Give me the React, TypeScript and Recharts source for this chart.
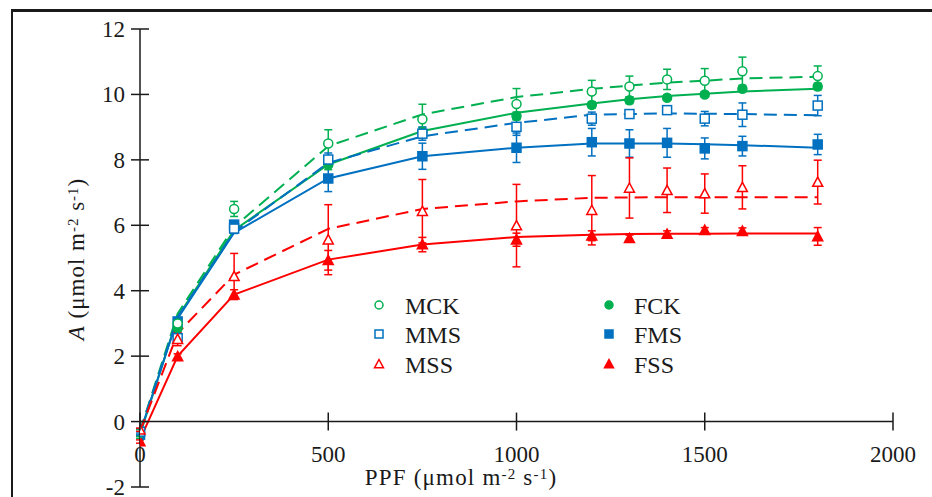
import React from "react";
import { ComposedChart, ErrorBar, Line, ReferenceLine, Scatter, XAxis, YAxis } from "recharts";

// PPF levels (µmol m-2 s-1)
const PPF = [0, 100, 250, 500, 750, 1000, 1200, 1300, 1400, 1500, 1600, 1800];

// measured net photosynthesis A, with error bars
const MCK = [-0.35, 3.0, 6.5, 8.5, 9.24, 9.71, 10.09, 10.24, 10.46, 10.42, 10.71, 10.56];
const MCK_ERR = [0.1, 0.15, 0.23, 0.42, 0.46, 0.47, 0.34, 0.32, 0.31, 0.37, 0.43, 0.31];
const FCK = [-0.46, 2.86, 5.95, 7.85, 8.85, 9.34, 9.68, 9.82, 9.9, 10.0, 10.17, 10.24];
const FCK_ERR = [0.05, 0.1, 0.1, 0.15, 0.15, 0.12, 0.1, 0.1, 0.08, 0.08, 0.08, 0.1];
const MMS = [-0.31, 2.55, 5.9, 8.01, 8.8, 9.01, 9.26, 9.4, 9.52, 9.26, 9.38, 9.66];
const MMS_ERR = [0.1, 0.15, 0.15, 0.2, 0.2, 0.26, 0.2, 0.1, 0.12, 0.22, 0.36, 0.31];
const FMS = [-0.4, 3.06, 6.02, 7.43, 8.11, 8.37, 8.54, 8.5, 8.52, 8.35, 8.42, 8.47];
const FMS_ERR = [0.05, 0.1, 0.12, 0.4, 0.4, 0.45, 0.42, 0.42, 0.44, 0.32, 0.3, 0.31];
const MSS = [-0.25, 2.52, 4.44, 5.56, 6.43, 5.99, 6.46, 7.14, 7.07, 6.97, 7.16, 7.32];
const MSS_ERR = [0.05, 0.2, 0.7, 1.07, 0.97, 1.26, 1.06, 0.92, 0.68, 0.6, 0.66, 0.67];
const FSS = [-0.61, 1.99, 3.88, 4.93, 5.41, 5.56, 5.68, 5.6, 5.73, 5.85, 5.82, 5.66];
const FSS_ERR = [0.05, 0.08, 0.15, 0.3, 0.22, 0.2, 0.15, 0.1, 0.1, 0.08, 0.1, 0.27];

// fitted light-response curves
const MCK_FIT = [-0.3, 3.3, 5.95, 8.42, 9.39, 9.92, 10.17, 10.27, 10.36, 10.42, 10.49, 10.54];
const FCK_FIT = [-0.4, 3.2, 5.85, 7.86, 8.88, 9.44, 9.72, 9.85, 9.95, 10.02, 10.09, 10.17];
const MMS_FIT = [-0.3, 3.2, 5.8, 7.91, 8.72, 9.13, 9.38, 9.4, 9.42, 9.41, 9.4, 9.36];
const FMS_FIT = [-0.35, 3.15, 5.77, 7.43, 8.11, 8.37, 8.5, 8.5, 8.5, 8.48, 8.45, 8.37];
const MSS_FIT = [-0.3, 2.7, 4.49, 5.89, 6.5, 6.73, 6.84, 6.85, 6.86, 6.86, 6.86, 6.86];
const FSS_FIT = [-0.55, 2.0, 3.88, 4.95, 5.41, 5.64, 5.71, 5.73, 5.74, 5.74, 5.75, 5.75];

const X_TICKS = [0, 500, 1000, 1500, 2000];
const Y_TICKS = [-2, 0, 2, 4, 6, 8, 10, 12];

const W = 932;
const H = 497;
const MARGIN = { top: 29, right: 39, bottom: 0, left: 0 };
const Y_AXIS_W = 140;
const X_AXIS_H = 10;
const PLOT_H = H - MARGIN.top - MARGIN.bottom - X_AXIS_H;
const ZERO_Y = MARGIN.top + (PLOT_H * 12) / 14;

const FONT = "'Liberation Serif', 'Times New Roman', serif";
const INK = "#1a1a1a";
const GREEN = "#00b050";
const BLUE = "#0070c0";
const RED = "#ff0000";

type ShapeKind = "circle" | "square" | "triangle";

// legend order: left column M*, right column F*
const SERIES = [
  { name: "MCK", vals: MCK, errs: MCK_ERR, fit: MCK_FIT, color: GREEN, shape: "circle", filled: false },
  { name: "MMS", vals: MMS, errs: MMS_ERR, fit: MMS_FIT, color: BLUE, shape: "square", filled: false },
  { name: "MSS", vals: MSS, errs: MSS_ERR, fit: MSS_FIT, color: RED, shape: "triangle", filled: false },
  { name: "FCK", vals: FCK, errs: FCK_ERR, fit: FCK_FIT, color: GREEN, shape: "circle", filled: true },
  { name: "FMS", vals: FMS, errs: FMS_ERR, fit: FMS_FIT, color: BLUE, shape: "square", filled: true },
  { name: "FSS", vals: FSS, errs: FSS_ERR, fit: FSS_FIT, color: RED, shape: "triangle", filled: true },
] as { name: string; vals: number[]; errs: number[]; fit: number[]; color: string; shape: ShapeKind; filled: boolean }[];

// filled series are drawn first so the open markers sit on top
const DRAW_ORDER = [...SERIES.slice(3), ...SERIES.slice(0, 3)];

function Marker({ cx, cy, shape, color, filled, r = 4.5 }: any) {
  const fill = filled ? color : "#fff";
  if (shape === "circle") {
    return <circle cx={cx} cy={cy} r={r} fill={fill} stroke={color} strokeWidth={1.5} />;
  }
  if (shape === "square") {
    return <rect x={cx - r} y={cy - r} width={2 * r} height={2 * r} fill={fill} stroke={color} strokeWidth={1.5} />;
  }
  const s = r + 0.5;
  return (
    <polygon
      points={`${cx},${cy - s} ${cx + s},${cy + s * 0.85} ${cx - s},${cy + s * 0.85}`}
      fill={fill}
      stroke={color}
      strokeWidth={1.5}
    />
  );
}

function XTick({ x, payload }: any) {
  return (
    <g>
      <line x1={x} x2={x} y1={ZERO_Y - 9} y2={ZERO_Y + 9} stroke={INK} strokeWidth={1.5} />
      <text x={x} y={ZERO_Y + 40} textAnchor="middle" fontFamily={FONT} fontSize={23} fill={INK}>
        {payload.value}
      </text>
    </g>
  );
}

function YTick({ y, payload }: any) {
  return (
    <g>
      <line x1={Y_AXIS_W - 9} x2={Y_AXIS_W + 9} y1={y} y2={y} stroke={INK} strokeWidth={1.5} />
      <text x={Y_AXIS_W - 15} y={y + 8} textAnchor="end" fontFamily={FONT} fontSize={23} fill={INK}>
        {payload.value}
      </text>
    </g>
  );
}

function Titles() {
  return (
    <g fontFamily={FONT} fill={INK}>
      <text x={461} y={485} textAnchor="middle" fontSize={23} letterSpacing={1.2}>
        PPF (μmol m<tspan baselineShift="38%" fontSize={15}>-2</tspan> s
        <tspan baselineShift="38%" fontSize={15}>-1</tspan>)
      </text>
      <text transform="translate(84,259) rotate(-90)" textAnchor="middle" fontSize={23} letterSpacing={1}>
        <tspan fontStyle="italic">A</tspan> (μmol m<tspan baselineShift="38%" fontSize={15}>-2</tspan> s
        <tspan baselineShift="38%" fontSize={15}>-1</tspan>)
      </text>
    </g>
  );
}

function LegendBlock() {
  const cols = [
    { mx: 379, tx: 405 },
    { mx: 609, tx: 634 },
  ];
  const rows = [305, 334, 364];
  return (
    <g>
      {SERIES.map((s, i) => {
        const c = cols[Math.floor(i / 3)];
        const y = rows[i % 3];
        return (
          <g key={s.name}>
            <Marker cx={c.mx} cy={y} shape={s.shape} color={s.color} filled={s.filled} r={4} />
            <text x={c.tx} y={y + 8.5} fontFamily={FONT} fontSize={24} fill={INK}>
              {s.name}
            </text>
          </g>
        );
      })}
    </g>
  );
}

export default function App() {
  return (
    <div style={{ position: "absolute", left: 0, top: 0, width: W, height: H, background: "#fff" }}>
      <div
        style={{
          position: "absolute",
          left: 11,
          top: 9,
          width: W,
          height: H,
          borderTop: `3px solid ${INK}`,
          borderLeft: `2px solid ${INK}`,
          pointerEvents: "none",
        }}
      />
      <ComposedChart width={W} height={H} margin={MARGIN} style={{ position: "absolute", left: 0, top: 0 }}>
        <XAxis
          dataKey="x"
          type="number"
          domain={[0, 2000]}
          ticks={X_TICKS}
          interval={0}
          height={X_AXIS_H}
          axisLine={false}
          tickLine={false}
          tick={<XTick />}
          allowDataOverflow
        />
        <YAxis
          type="number"
          domain={[-2, 12]}
          ticks={Y_TICKS}
          interval={0}
          width={Y_AXIS_W}
          axisLine={{ stroke: INK, strokeWidth: 1.5 }}
          tickLine={false}
          tick={<YTick />}
          allowDataOverflow
        />
        <ReferenceLine y={0} stroke={INK} strokeWidth={1.5} />
        {DRAW_ORDER.map((s) => (
          <Line
            key={`${s.name}-fit`}
            data={PPF.map((x, i) => ({ x, fit: s.fit[i] }))}
            dataKey="fit"
            type="linear"
            stroke={s.color}
            strokeWidth={2}
            strokeDasharray={s.filled ? undefined : "13 7"}
            dot={false}
            activeDot={false}
            isAnimationActive={false}
          />
        ))}
        {DRAW_ORDER.map((s) => (
          <Scatter
            key={s.name}
            name={s.name}
            data={PPF.map((x, i) => ({ x, y: s.vals[i], err: s.errs[i] }))}
            dataKey="y"
            isAnimationActive={false}
            shape={(p: any) => <Marker cx={p.cx} cy={p.cy} shape={s.shape} color={s.color} filled={s.filled} />}
          >
            <ErrorBar dataKey="err" direction="y" width={4} stroke={s.color} strokeWidth={1.5} isAnimationActive={false} />
          </Scatter>
        ))}
        <Titles />
        <LegendBlock />
      </ComposedChart>
    </div>
  );
}
